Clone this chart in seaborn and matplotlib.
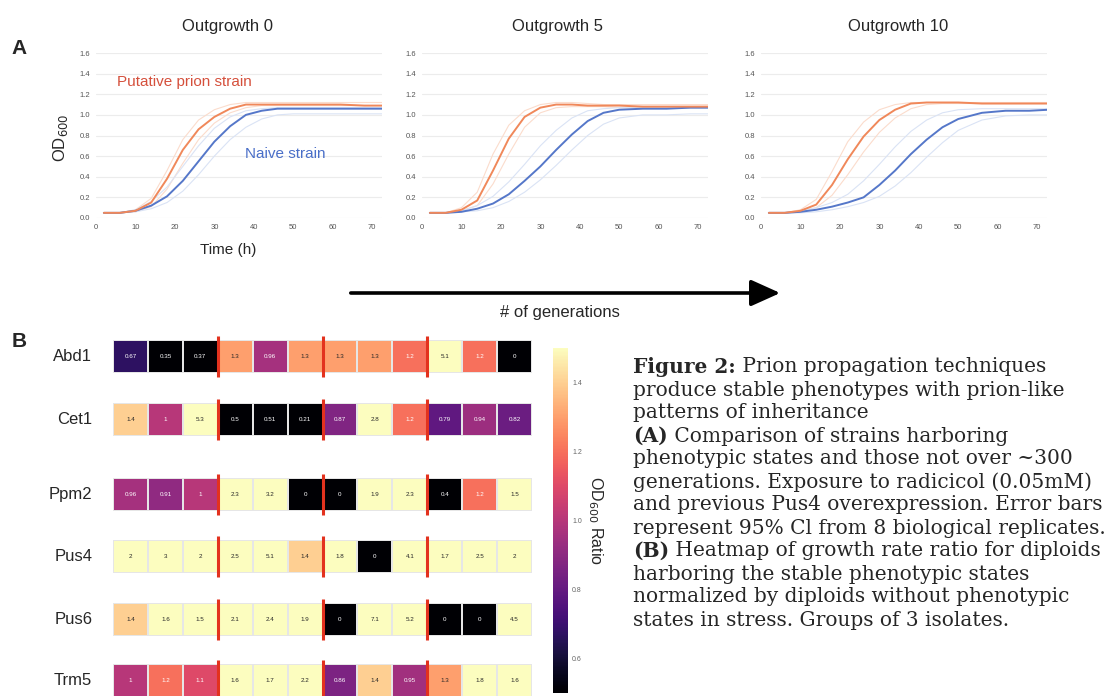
import numpy as np
import pandas as pd
import seaborn as sns
import matplotlib.pyplot as plt
from matplotlib.patches import FancyArrowPatch
from matplotlib.ticker import FormatStrFormatter

sns.set_style("white")
plt.rcParams['font.family'] = ['Liberation Sans', 'DejaVu Sans']

# ---- growth curves (OD600 vs time) ----
hours = [2, 6, 10, 14, 18, 22, 26, 30, 34, 38, 42, 46, 50, 56, 62, 68, 73]

# outgrowth 0
prion0 = [0.05, 0.05, 0.07, 0.15, 0.38, 0.66, 0.86, 0.98, 1.06, 1.10, 1.10, 1.10, 1.10, 1.10, 1.10, 1.09, 1.09]
prion0_hi = [0.05, 0.05, 0.08, 0.19, 0.46, 0.76, 0.95, 1.05, 1.10, 1.12, 1.12, 1.12, 1.12, 1.12, 1.12, 1.12, 1.12]
prion0_lo = [0.05, 0.05, 0.06, 0.11, 0.28, 0.53, 0.76, 0.92, 1.02, 1.07, 1.09, 1.09, 1.09, 1.09, 1.09, 1.09, 1.09]
naive0 = [0.05, 0.05, 0.07, 0.12, 0.21, 0.36, 0.55, 0.74, 0.89, 1.00, 1.04, 1.06, 1.06, 1.06, 1.06, 1.06, 1.06]
naive0_hi = [0.05, 0.05, 0.08, 0.16, 0.30, 0.50, 0.70, 0.87, 0.98, 1.04, 1.06, 1.07, 1.07, 1.07, 1.07, 1.07, 1.07]
naive0_lo = [0.05, 0.05, 0.06, 0.09, 0.15, 0.26, 0.42, 0.60, 0.76, 0.88, 0.96, 1.00, 1.01, 1.01, 1.01, 1.01, 1.01]

# outgrowth 5
prion5 = [0.05, 0.05, 0.08, 0.17, 0.46, 0.77, 0.98, 1.07, 1.10, 1.10, 1.09, 1.09, 1.09, 1.08, 1.08, 1.08, 1.08]
prion5_hi = [0.05, 0.05, 0.10, 0.25, 0.62, 0.90, 1.04, 1.10, 1.12, 1.12, 1.11, 1.10, 1.10, 1.10, 1.10, 1.10, 1.10]
prion5_lo = [0.05, 0.05, 0.07, 0.12, 0.33, 0.62, 0.88, 1.02, 1.07, 1.08, 1.08, 1.08, 1.07, 1.07, 1.07, 1.07, 1.07]
naive5 = [0.05, 0.05, 0.06, 0.09, 0.14, 0.23, 0.36, 0.50, 0.66, 0.81, 0.94, 1.02, 1.05, 1.06, 1.06, 1.07, 1.07]
naive5_hi = [0.05, 0.05, 0.07, 0.12, 0.21, 0.35, 0.52, 0.70, 0.85, 0.97, 1.04, 1.06, 1.07, 1.07, 1.07, 1.07, 1.07]
naive5_lo = [0.05, 0.05, 0.06, 0.07, 0.10, 0.16, 0.25, 0.37, 0.51, 0.66, 0.80, 0.91, 0.97, 1.00, 1.00, 1.01, 1.01]

# outgrowth 10
prion10 = [0.05, 0.05, 0.07, 0.13, 0.32, 0.57, 0.79, 0.95, 1.05, 1.11, 1.12, 1.12, 1.12, 1.11, 1.11, 1.11, 1.11]
prion10_hi = [0.05, 0.05, 0.08, 0.18, 0.45, 0.74, 0.93, 1.05, 1.10, 1.12, 1.12, 1.12, 1.12, 1.12, 1.12, 1.12, 1.12]
prion10_lo = [0.05, 0.05, 0.06, 0.10, 0.22, 0.42, 0.64, 0.83, 0.97, 1.06, 1.10, 1.11, 1.11, 1.11, 1.11, 1.11, 1.11]
naive10 = [0.05, 0.05, 0.06, 0.08, 0.11, 0.15, 0.20, 0.32, 0.46, 0.62, 0.76, 0.88, 0.96, 1.02, 1.04, 1.04, 1.05]
naive10_hi = [0.05, 0.05, 0.07, 0.10, 0.15, 0.23, 0.36, 0.52, 0.69, 0.84, 0.95, 1.02, 1.05, 1.06, 1.06, 1.06, 1.06]
naive10_lo = [0.05, 0.05, 0.05, 0.06, 0.08, 0.11, 0.15, 0.21, 0.31, 0.44, 0.59, 0.73, 0.85, 0.95, 0.99, 1.00, 1.00]

titles = ["Outgrowth 0", "Outgrowth 5", "Outgrowth 10"]

# ---- heatmap: OD600 ratio, 4 groups of 3 isolates ----
genes = ["Abd1", "Cet1", "Ppm2", "Pus4", "Pus6", "Trm5"]
abd1 = [0.67, 0.35, 0.37, 1.3, 0.96, 1.3, 1.3, 1.3, 1.2, 5.1, 1.2, 0]
cet1 = [1.4, 1, 5.3, 0.5, 0.51, 0.21, 0.87, 2.8, 1.2, 0.79, 0.94, 0.82]
ppm2 = [0.96, 0.91, 1, 2.3, 3.2, 0, 0, 1.9, 2.3, 0.4, 1.2, 1.5]
pus4 = [2, 3, 2, 2.5, 5.1, 1.4, 1.8, 0, 4.1, 1.7, 2.5, 2]
pus6 = [1.4, 1.6, 1.5, 2.1, 2.4, 1.9, 0, 7.1, 5.2, 0, 0, 4.5]
trm5 = [1, 1.2, 1.1, 1.6, 1.7, 2.2, 0.86, 1.4, 0.95, 1.3, 1.8, 1.6]
ratios = [abd1, cet1, ppm2, pus4, pus6, trm5]

W, H = 1112, 696
fig = plt.figure(figsize=(W / 100, H / 100), dpi=100)


def box(x0, y0, x1, y1):
    # pixel box (top-left origin) -> figure fraction rect
    return [x0 / W, 1 - y1 / H, (x1 - x0) / W, (y1 - y0) / H]


def fpos(x, y):
    return x / W, 1 - y / H


orange, orange_l = '#f0885a', '#fbdccc'
blue, blue_l = '#5577c9', '#dae3f5'

curves = [
    (prion0, prion0_hi, prion0_lo, naive0, naive0_hi, naive0_lo),
    (prion5, prion5_hi, prion5_lo, naive5, naive5_hi, naive5_lo),
    (prion10, prion10_hi, prion10_lo, naive10, naive10_hi, naive10_lo),
]
lefts = [96, 422, 761]
title_x = [228, 557, 898]

for k in range(3):
    p, p_hi, p_lo, n, n_hi, n_lo = curves[k]
    ax = fig.add_axes(box(lefts[k], 53, lefts[k] + 286, 218))
    for vals in (p_hi, p_lo):
        sns.lineplot(x=hours, y=vals, ax=ax, color=orange_l, lw=0.8)
    for vals in (n_hi, n_lo):
        sns.lineplot(x=hours, y=vals, ax=ax, color=blue_l, lw=0.8)
    sns.lineplot(x=hours, y=n, ax=ax, color=blue, lw=1.4)
    sns.lineplot(x=hours, y=p, ax=ax, color=orange, lw=1.4)
    ax.set_xlim(0, 72.5)
    ax.set_ylim(0, 1.6)
    ax.set_xticks(range(0, 71, 10))
    ax.set_yticks(np.arange(0, 1.61, 0.2))
    ax.yaxis.set_major_formatter(FormatStrFormatter('%.1f'))
    ax.yaxis.grid(True, color='#ececec', lw=0.8)
    ax.xaxis.grid(False)
    sns.despine(ax=ax, left=True, bottom=True)
    ax.tick_params(labelsize=5.5, colors='#555555', length=2.5, width=0.5, pad=1.5)
    ax.set_xlabel('')
    ax.set_ylabel('')
    fig.text(*fpos(title_x[k], 26), titles[k], ha='center', va='center', fontsize=12)
    if k == 0:
        ax.text(5.3, 1.32, "Putative prion strain", color='#d5503c', fontsize=11, va='center')
        ax.text(37.7, 0.62, "Naive strain", color='#4a6fc8', fontsize=11, va='center')

fig.text(*fpos(228, 250), "Time (h)", ha='center', va='center', fontsize=11)
fig.text(*fpos(60, 138), "OD$_{600}$", ha='center', va='center', fontsize=12, rotation=90)
fig.text(*fpos(19, 49), "A", ha='center', va='center', fontsize=15, weight='bold')
fig.text(*fpos(19, 341), "B", ha='center', va='center', fontsize=15, weight='bold')

arrow = FancyArrowPatch(fpos(348, 293), fpos(783, 293), transform=fig.transFigure,
                        arrowstyle='-|>,head_length=1.0,head_width=0.45',
                        mutation_scale=18, lw=2.6, color='black')
fig.add_artist(arrow)
fig.text(*fpos(560, 312), "# of generations", ha='center', va='center', fontsize=12)

# ---- panel B heatmap rows ----
row_tops = [340, 403, 478, 540, 603, 664]
cax = fig.add_axes(box(553, 348, 568, 693))
cbar = None
for i in range(len(genes)):
    ax = fig.add_axes(box(113, row_tops[i], 532, row_tops[i] + 33))
    df = pd.DataFrame([ratios[i]], index=[genes[i]])
    sns.heatmap(df, ax=ax, cmap='magma', vmin=0.5, vmax=1.5, annot=True, fmt='g',
                annot_kws={'size': 4.5}, linewidths=0.3, linecolor='#e6e6e6',
                cbar=(i == 0), cbar_ax=cax if i == 0 else None, xticklabels=False)
    if i == 0:
        cbar = ax.collections[0].colorbar
    ax.set_yticklabels([genes[i]], rotation=0)
    ax.tick_params(axis='y', length=0, pad=15, labelsize=12)
    ax.set_ylabel('')
    ax.vlines([3, 6, 9], -0.12, 1.12, color='#e3321e', lw=2.2, clip_on=False)

cbar.outline.set_visible(False)
cbar.set_ticks([0.6, 0.8, 1.0, 1.2, 1.4])
cax.tick_params(labelsize=5, colors='#666666', length=0, pad=3)
cax.set_ylabel("OD$_{600}$ Ratio", rotation=270, fontsize=11.5, labelpad=16)

# ---- caption ----
tax = fig.add_axes([0, 0, 1, 1])
tax.axis('off')
tax.set_xlim(0, W)
tax.set_ylim(H, 0)
cap_font = dict(family='DejaVu Serif', fontsize=14.5, va='center', ha='left')
caption = [
    ("Figure 2:", " Prion propagation techniques"),
    ("", "produce stable phenotypes with prion-like"),
    ("", "patterns of inheritance"),
    ("(A)", " Comparison of strains harboring"),
    ("", "phenotypic states and those not over ~300"),
    ("", "generations. Exposure to radicicol (0.05mM)"),
    ("", "and previous Pus4 overexpression. Error bars"),
    ("", "represent 95% Cl from 8 biological replicates."),
    ("(B)", " Heatmap of growth rate ratio for diploids"),
    ("", "harboring the stable phenotypic states"),
    ("", "normalized by diploids without phenotypic"),
    ("", "states in stress. Groups of 3 isolates."),
]
for j, (bold, rest) in enumerate(caption):
    y = 367 + 23 * j
    if bold:
        t = tax.text(633, y, bold, weight='bold', **cap_font)
        tax.annotate(rest, xy=(1, 0.5), xycoords=t, **cap_font)
    else:
        tax.text(633, y, rest, **cap_font)

fig.savefig("out.png", dpi=100)
